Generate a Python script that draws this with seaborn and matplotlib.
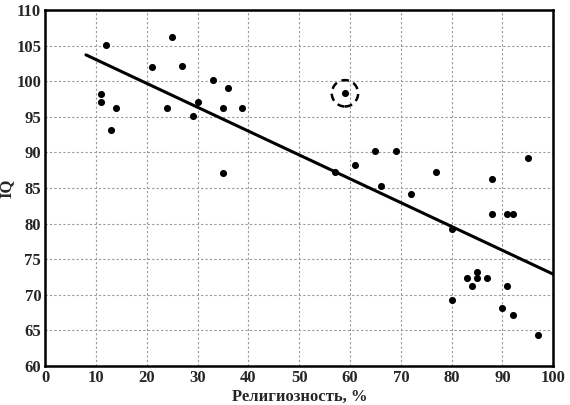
import matplotlib
matplotlib.use("Agg")
import matplotlib.pyplot as plt
import seaborn as sns
import pandas as pd

# Religiosity (%) vs national IQ
religiosity = [12, 25, 21, 27, 33, 36, 11, 11, 14, 24, 30, 29, 35, 38.7, 13, 35,
               59, 65, 69, 61, 57, 77, 95, 66, 72, 88, 88, 91, 92, 80,
               85, 83, 85, 87, 84, 91, 80, 90, 92, 97]
iq = [105.1, 106.2, 102.0, 102.1, 100.2, 99.1, 98.2, 97.1, 96.2, 96.2, 97.1, 95.1, 96.2, 96.2, 93.1, 87.1,
      98.3, 90.2, 90.2, 88.2, 87.3, 87.3, 89.2, 85.3, 84.2, 86.2, 81.3, 81.3, 81.3, 79.3,
      73.2, 72.3, 72.3, 72.3, 71.2, 71.3, 69.3, 68.2, 67.1, 64.3]

# highlighted country (dashed ring)
marked_x = [59]
marked_y = [98.3]

# trend line ends
trend_x = [8, 100]
trend_y = [103.7, 72.9]

df = pd.DataFrame({"religiosity": religiosity, "iq": iq})

sns.set_style("white")
plt.rcParams['font.family'] = ['Liberation Serif', 'DejaVu Serif']

fig = plt.figure(figsize=(5.7, 4.05), dpi=100)
ax = fig.add_axes([0.0795, 0.0963, 0.891, 0.879])

sns.lineplot(x=trend_x, y=trend_y, color="black", linewidth=2.2, ax=ax)
sns.scatterplot(data=df, x="religiosity", y="iq", color="black", s=26,
                edgecolor="black", linewidth=0, ax=ax)
ax.scatter(marked_x, marked_y, s=360, facecolors="none", edgecolors="black",
           linestyles=(0, (3, 2)), linewidths=1.8)

ax.set_xlim(0, 100)
ax.set_ylim(60, 110)
ax.set_xticks(range(0, 101, 10))
ax.set_yticks(range(60, 111, 5))
ax.grid(True, color="#999999", linestyle=(0, (2, 2)), linewidth=0.8)
ax.tick_params(length=0, labelsize=12, pad=3)
for lab in ax.get_xticklabels() + ax.get_yticklabels():
    lab.set_fontweight("bold")
for sp in ax.spines.values():
    sp.set_color("black")
    sp.set_linewidth(1.8)

ax.set_xlabel("Религиозность, %", fontsize=12, fontweight="bold", labelpad=2)
ax.set_ylabel("IQ", fontsize=12, fontweight="bold", labelpad=1)

fig.savefig("out.png", dpi=100)
